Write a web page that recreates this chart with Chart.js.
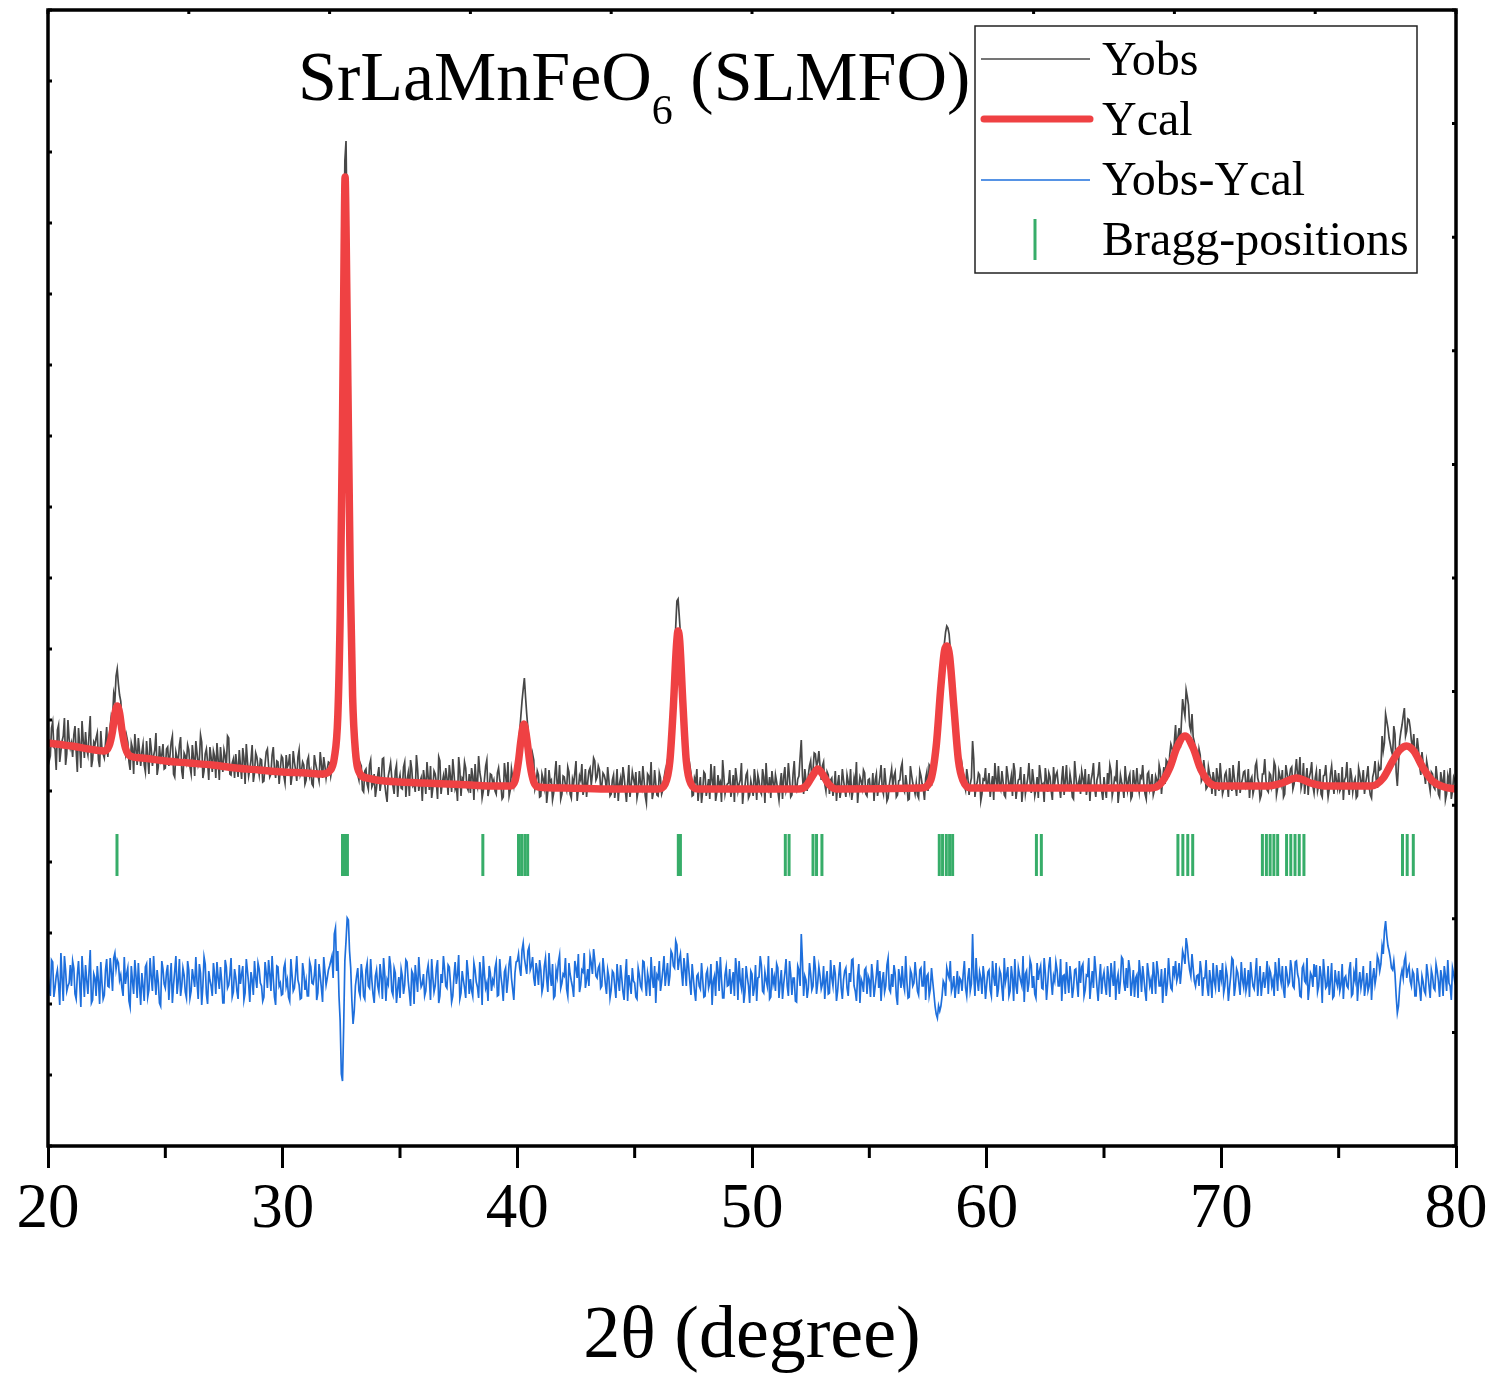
<!DOCTYPE html>
<html>
<head>
<meta charset="utf-8">
<script src="https://cdn.jsdelivr.net/npm/chart.js@4.4.1/dist/chart.umd.min.js"></script>
<style>
html, body { margin: 0; padding: 0; background: #fff; }
canvas { display: block; }
</style>
</head>
<body>
<canvas id="xrdChart" width="1506" height="1383"></canvas>
<script>
// observed / difference patterns: values at 20.0, 20.1 ... 80.0
// and the half steps 20.05, 20.15 ... 79.95 kept in the *Mid arrays
const gridStart = 20;
const gridStep = 0.1;

const obsY = [
  411, 390, 424, 397, 416, 384, 405, 428, 392, 407, // 20
  403, 411, 395, 418, 378, 406, 414, 391, 430, 386, // 21
  401, 413, 379, 397, 388, 419, 404, 431, 452, 470, // 22
  462, 445, 418, 392, 404, 376, 398, 412, 381, 395, // 23
  394, 381, 405, 372, 397, 390, 413, 379, 386, 402, // 24
  378, 399, 391, 410, 369, 388, 401, 375, 393, 384, // 25
  396, 372, 389, 405, 381, 411, 368, 392, 384, 399, // 26
  374, 390, 403, 366, 385, 396, 379, 408, 371, 387, // 27
  392, 369, 381, 398, 362, 385, 377, 401, 373, 389, // 28
  371, 386, 365, 394, 380, 372, 399, 368, 384, 377, // 29
  388, 363, 379, 392, 370, 384, 365, 396, 375, 381, // 30
  366, 389, 375, 360, 383, 371, 394, 368, 380, 377, // 31
  383, 377, 398, 415, 462, 540, 870, 1005, 780, 545, // 32
  445, 398, 371, 383, 356, 375, 362, 381, 359, 372, // 33
  358, 379, 364, 388, 352, 370, 383, 360, 375, 349, // 34
  371, 357, 384, 366, 350, 377, 362, 391, 355, 368, // 35
  376, 352, 369, 380, 358, 372, 347, 385, 363, 359, // 36
  368, 381, 354, 373, 361, 389, 350, 366, 378, 356, // 37
  353, 370, 382, 359, 374, 348, 367, 386, 357, 371, // 38
  366, 352, 378, 361, 349, 371, 384, 356, 369, 375, // 39
  388, 414, 445, 468, 432, 402, 378, 386, 362, 371, // 40
  350, 367, 378, 355, 364, 346, 372, 359, 381, 352, // 41
  369, 356, 374, 348, 362, 385, 357, 366, 351, 377, // 42
  364, 378, 372, 385, 369, 376, 360, 371, 355, 366, // 43
  352, 371, 360, 345, 368, 379, 356, 363, 349, 374, // 44
  361, 348, 375, 358, 366, 343, 370, 384, 354, 362, // 45
  350, 368, 356, 375, 386, 398, 440, 492, 545, 530, // 46
  482, 436, 394, 366, 373, 351, 364, 345, 369, 355, // 47
  372, 358, 347, 366, 380, 353, 361, 344, 370, 359, // 48
  363, 349, 371, 378, 355, 366, 342, 360, 374, 351, // 49
  358, 377, 346, 365, 352, 369, 383, 357, 348, 364, // 50
  371, 355, 362, 347, 379, 360, 368, 351, 385, 356, // 51
  370, 406, 352, 366, 371, 385, 376, 392, 384, 379, // 52
  380, 362, 374, 352, 368, 359, 345, 371, 356, 366, // 53
  349, 364, 377, 355, 361, 343, 369, 358, 373, 350, // 54
  367, 356, 345, 372, 360, 381, 352, 364, 348, 369, // 55
  359, 374, 351, 366, 383, 354, 362, 347, 371, 358, // 56
  363, 348, 370, 357, 368, 355, 379, 372, 398, 392, // 57
  425, 462, 503, 520, 512, 478, 452, 420, 390, 368, // 58
  372, 356, 368, 362, 405, 349, 364, 371, 352, 366, // 59
  355, 373, 361, 346, 368, 380, 357, 364, 349, 371, // 60
  362, 350, 375, 358, 367, 344, 372, 360, 383, 353, // 61
  366, 357, 348, 371, 362, 378, 354, 369, 346, 363, // 62
  374, 359, 367, 351, 381, 356, 364, 347, 370, 361, // 63
  352, 368, 377, 360, 345, 372, 358, 366, 384, 355, // 64
  369, 348, 362, 375, 357, 366, 343, 371, 359, 380, // 65
  356, 372, 350, 364, 378, 354, 368, 361, 347, 374, // 66
  363, 351, 370, 358, 375, 367, 362, 384, 391, 398, // 67
  405, 392, 418, 424, 437, 456, 441, 415, 409, 395, // 68
  379, 391, 368, 375, 359, 372, 352, 366, 378, 355, // 69
  368, 357, 374, 349, 365, 381, 360, 371, 353, 367, // 70
  375, 362, 348, 369, 358, 384, 363, 351, 372, 366, // 71
  354, 371, 365, 380, 358, 369, 376, 352, 373, 368, // 72
  379, 362, 387, 370, 358, 383, 366, 351, 374, 360, // 73
  368, 355, 377, 349, 371, 363, 357, 380, 352, 366, // 74
  373, 358, 346, 369, 361, 378, 354, 367, 350, 372, // 75
  365, 352, 370, 359, 348, 374, 366, 381, 377, 395, // 76
  432, 418, 402, 391, 412, 360, 405, 421, 438, 415, // 77
  426, 405, 412, 389, 397, 371, 383, 362, 378, 355, // 78
  372, 357, 368, 349, 365, 376, 352, 363, 347, 369, // 79
  358                                               // 80
];

const obsMid = [
  385, 418, 399, 376, 421, 395, 410, 381, 426, 398, // 20
  389, 420, 374, 401, 425, 388, 397, 412, 379, 404, // 21
  408, 386, 415, 392, 403, 389, 420, 428, 445, 477, // 22
  451, 427, 399, 410, 384, 403, 372, 397, 408, 380, // 23
  402, 374, 389, 408, 380, 396, 371, 400, 391, 377, // 24
  397, 380, 404, 372, 394, 385, 409, 367, 390, 401, // 25
  379, 401, 370, 393, 386, 404, 375, 397, 366, 389, // 26
  395, 368, 387, 399, 374, 390, 410, 372, 383, 368, // 27
  381, 396, 367, 388, 402, 370, 386, 364, 393, 379, // 28
  387, 364, 382, 397, 369, 391, 377, 385, 362, 390, // 29
  370, 391, 382, 361, 395, 376, 389, 371, 384, 362, // 30
  385, 370, 362, 391, 377, 365, 382, 389, 368, 384, // 31
  370, 394, 406, 438, 505, 660, 985, 905, 640, 480, // 32
  425, 392, 366, 380, 354, 377, 357, 386, 362, 349, // 33
  371, 355, 387, 362, 344, 376, 368, 352, 381, 365, // 34
  358, 379, 349, 373, 386, 360, 354, 377, 364, 345, // 35
  367, 384, 356, 348, 375, 363, 389, 352, 370, 378, // 36
  351, 370, 387, 357, 345, 376, 368, 384, 359, 372, // 37
  378, 346, 364, 390, 367, 355, 380, 350, 372, 362, // 38
  355, 373, 366, 347, 383, 359, 350, 377, 361, 384, // 39
  401, 430, 457, 449, 418, 387, 392, 357, 375, 349, // 40
  372, 359, 343, 376, 366, 353, 385, 362, 347, 370, // 41
  361, 379, 352, 367, 373, 345, 370, 382, 359, 349, // 42
  375, 361, 388, 366, 380, 358, 373, 366, 379, 350, // 43
  366, 348, 377, 362, 354, 370, 344, 381, 360, 367, // 44
  374, 355, 363, 380, 350, 372, 359, 347, 376, 351, // 45
  373, 352, 368, 359, 392, 415, 463, 520, 547, 512, // 46
  461, 418, 371, 381, 350, 368, 377, 358, 343, 374, // 47
  350, 367, 382, 357, 345, 371, 364, 386, 352, 362, // 48
  376, 357, 344, 368, 362, 383, 357, 371, 348, 365, // 49
  350, 366, 371, 355, 377, 343, 362, 369, 375, 354, // 50
  364, 346, 373, 369, 355, 383, 349, 372, 360, 367, // 51
  389, 370, 377, 355, 380, 367, 393, 380, 395, 366, // 52
  384, 355, 371, 366, 350, 375, 362, 348, 377, 357, // 53
  371, 356, 346, 368, 384, 358, 365, 376, 352, 366, // 54
  356, 373, 366, 350, 369, 357, 378, 345, 361, 377, // 55
  370, 349, 365, 378, 357, 371, 346, 380, 363, 352, // 56
  351, 375, 362, 346, 374, 381, 360, 391, 385, 408, // 57
  447, 490, 514, 518, 497, 466, 437, 402, 372, 381, // 58
  361, 377, 351, 368, 387, 360, 373, 345, 367, 378, // 59
  364, 349, 370, 383, 356, 362, 375, 351, 380, 359, // 60
  370, 383, 347, 366, 379, 357, 352, 368, 364, 377, // 61
  350, 369, 381, 360, 344, 367, 373, 355, 379, 371, // 62
  362, 348, 380, 366, 357, 372, 349, 385, 358, 367, // 63
  375, 358, 351, 372, 366, 383, 349, 371, 362, 346, // 64
  357, 373, 381, 350, 368, 386, 355, 364, 348, 366, // 65
  368, 347, 376, 359, 363, 370, 381, 352, 372, 357, // 66
  372, 356, 366, 381, 352, 379, 386, 369, 402, 388, // 67
  421, 409, 398, 447, 430, 449, 420, 432, 404, 385, // 68
  397, 365, 386, 357, 379, 368, 374, 350, 369, 383, // 69
  352, 371, 363, 378, 355, 369, 350, 385, 362, 374, // 70
  359, 377, 366, 352, 380, 368, 347, 372, 387, 356, // 71
  373, 359, 384, 351, 375, 362, 349, 381, 366, 377, // 72
  357, 375, 370, 389, 364, 352, 378, 369, 384, 353, // 73
  375, 361, 352, 370, 381, 349, 372, 364, 376, 358, // 74
  355, 379, 366, 384, 351, 370, 363, 348, 378, 361, // 75
  376, 363, 380, 351, 369, 385, 358, 376, 410, 403, // 76
  425, 408, 395, 420, 374, 382, 414, 430, 410, 427, // 77
  418, 398, 391, 408, 380, 394, 372, 385, 363, 374, // 78
  359, 380, 352, 374, 361, 346, 370, 378, 355, 366  // 79
];

const diffY = [
  172, 150, 184, 158, 176, 141, 168, 190, 155, 163, // 20
  160, 178, 147, 185, 139, 170, 181, 152, 196, 146, // 21
  168, 180, 142, 163, 151, 187, 159, 174, 188, 177, // 22
  183, 171, 150, 162, 178, 139, 165, 186, 148, 160, // 23
  173, 145, 182, 156, 169, 190, 151, 164, 140, 177, // 24
  158, 181, 166, 143, 175, 152, 187, 160, 171, 148, // 25
  176, 155, 168, 189, 147, 173, 160, 182, 142, 166, // 26
  150, 171, 184, 157, 165, 143, 179, 161, 188, 154, // 27
  169, 147, 162, 180, 153, 175, 144, 166, 185, 158, // 28
  177, 160, 149, 173, 186, 155, 168, 141, 179, 163, // 29
  152, 183, 166, 145, 171, 158, 190, 161, 148, 174, // 30
  165, 150, 179, 162, 187, 153, 170, 144, 175, 168, // 31
  180, 190, 212, 175, 150, 72, 120, 205, 226, 178,  // 32
  122, 160, 178, 150, 171, 147, 183, 158, 166, 143, // 33
  176, 154, 169, 188, 145, 162, 180, 151, 173, 157, // 34
  148, 170, 161, 184, 153, 175, 142, 167, 189, 159, // 35
  172, 155, 181, 146, 168, 160, 186, 150, 163, 177, // 36
  158, 179, 144, 170, 162, 191, 153, 166, 148, 174, // 37
  167, 150, 176, 159, 184, 141, 172, 163, 180, 155, // 38
  162, 184, 151, 170, 145, 178, 166, 190, 157, 173, // 39
  185, 178, 196, 188, 172, 199, 180, 168, 183, 161, // 40
  176, 160, 188, 154, 171, 182, 150, 169, 191, 163, // 41
  170, 157, 183, 165, 149, 178, 192, 161, 174, 158, // 42
  177, 190, 172, 186, 168, 181, 160, 175, 152, 169, // 43
  156, 173, 148, 166, 181, 154, 170, 145, 162, 178, // 44
  163, 147, 171, 157, 184, 150, 166, 189, 158, 143, // 45
  168, 155, 176, 160, 183, 170, 192, 178, 201, 186, // 46
  174, 188, 160, 179, 151, 168, 145, 172, 157, 166, // 47
  150, 176, 163, 141, 170, 185, 155, 167, 148, 179, // 48
  161, 152, 174, 188, 146, 165, 178, 154, 169, 143, // 49
  172, 158, 145, 169, 181, 153, 166, 190, 149, 162, // 50
  155, 178, 164, 147, 173, 160, 185, 151, 168, 144, // 51
  176, 212, 150, 166, 158, 172, 160, 178, 163, 170, // 52
  162, 147, 175, 153, 168, 181, 145, 171, 158, 166, // 53
  178, 150, 164, 187, 155, 170, 143, 163, 176, 152, // 54
  166, 182, 149, 171, 158, 145, 174, 160, 188, 154, // 55
  159, 173, 141, 168, 180, 156, 165, 149, 172, 163, // 56
  170, 151, 178, 160, 146, 172, 157, 165, 140, 128, // 57
  135, 150, 162, 178, 168, 155, 170, 160, 152, 166, // 58
  172, 158, 168, 155, 212, 150, 166, 174, 152, 169, // 59
  161, 176, 150, 169, 183, 157, 172, 145, 164, 179, // 60
  155, 168, 187, 152, 171, 160, 144, 175, 163, 181, // 61
  170, 148, 166, 180, 157, 173, 162, 189, 151, 165, // 62
  176, 160, 145, 171, 184, 153, 168, 158, 177, 149, // 63
  163, 182, 156, 170, 147, 175, 190, 159, 166, 152, // 64
  174, 151, 168, 183, 160, 146, 172, 165, 187, 155, // 65
  158, 177, 163, 149, 171, 186, 154, 168, 145, 173, // 66
  166, 184, 152, 175, 160, 143, 178, 162, 170, 156, // 67
  172, 165, 183, 176, 190, 208, 186, 170, 178, 160, // 68
  171, 185, 150, 168, 159, 176, 148, 165, 181, 154, // 69
  167, 153, 178, 145, 170, 186, 160, 173, 151, 166, // 70
  178, 162, 149, 170, 157, 188, 165, 150, 174, 168, // 71
  152, 173, 166, 184, 155, 170, 180, 148, 172, 164, // 72
  177, 158, 185, 167, 149, 181, 163, 146, 173, 159, // 73
  169, 154, 180, 143, 172, 160, 151, 183, 150, 165, // 74
  175, 161, 147, 170, 158, 184, 152, 166, 145, 174, // 75
  166, 150, 173, 160, 146, 178, 170, 186, 182, 192, // 76
  225, 200, 188, 176, 172, 133, 158, 176, 185, 168, // 77
  180, 160, 172, 150, 166, 145, 164, 152, 172, 148, // 78
  170, 156, 175, 149, 168, 180, 155, 163, 146, 172, // 79
  160                                               // 80
];

const diffMid = [
  158, 186, 149, 170, 162, 193, 145, 176, 160, 181, // 20
  185, 152, 171, 163, 190, 149, 166, 175, 143, 172, // 21
  150, 165, 184, 147, 176, 160, 188, 155, 193, 186, // 22
  166, 158, 189, 172, 145, 180, 152, 170, 183, 141, // 23
  160, 179, 149, 188, 155, 168, 176, 143, 185, 162, // 24
  174, 146, 183, 161, 190, 165, 150, 178, 154, 185, // 25
  148, 177, 159, 164, 182, 141, 189, 152, 175, 160, // 26
  183, 152, 168, 179, 143, 186, 158, 171, 149, 177, // 27
  155, 181, 172, 146, 187, 162, 174, 151, 168, 183, // 28
  163, 145, 184, 158, 172, 190, 149, 180, 160, 151, // 29
  178, 160, 149, 187, 155, 172, 166, 147, 183, 156, // 30
  150, 184, 163, 171, 146, 182, 158, 189, 161, 176, // 31
  185, 168, 218, 195, 125, 65, 185, 228, 195, 145,  // 32
  135, 170, 155, 182, 150, 176, 160, 187, 152, 170, // 33
  160, 182, 147, 172, 166, 190, 155, 178, 143, 169, // 34
  177, 152, 186, 165, 140, 172, 181, 154, 170, 162, // 35
  150, 174, 166, 187, 154, 178, 143, 172, 190, 160, // 36
  181, 163, 150, 184, 171, 147, 175, 158, 186, 152, // 37
  156, 183, 164, 148, 171, 190, 158, 145, 173, 166, // 38
  178, 150, 187, 160, 174, 153, 182, 168, 146, 184, // 39
  192, 170, 203, 180, 195, 176, 189, 160, 175, 186, // 40
  154, 180, 167, 193, 160, 148, 176, 184, 158, 172, // 41
  188, 150, 172, 159, 185, 168, 154, 176, 193, 166, // 42
  160, 183, 197, 170, 178, 158, 188, 162, 176, 148, // 43
  175, 160, 182, 155, 168, 146, 187, 171, 152, 165, // 44
  149, 178, 160, 185, 165, 173, 150, 168, 180, 171, // 45
  185, 164, 190, 172, 160, 195, 180, 205, 176, 192, // 46
  160, 176, 193, 164, 182, 155, 170, 160, 183, 149, // 47
  172, 158, 182, 165, 150, 176, 189, 148, 171, 160, // 48
  177, 165, 150, 176, 185, 158, 143, 180, 160, 175, // 49
  150, 181, 168, 190, 155, 174, 160, 147, 178, 169, // 50
  182, 148, 176, 162, 187, 150, 172, 168, 145, 180, // 51
  160, 185, 170, 148, 183, 156, 190, 152, 179, 157, // 52
  180, 166, 152, 186, 160, 172, 155, 184, 147, 175, // 53
  158, 173, 186, 160, 145, 182, 167, 154, 178, 170, // 54
  149, 170, 160, 186, 175, 165, 154, 181, 157, 172, // 55
  181, 150, 177, 158, 162, 190, 148, 176, 160, 184, // 56
  155, 176, 160, 185, 170, 150, 178, 153, 132, 140, // 57
  140, 165, 150, 172, 185, 160, 148, 175, 168, 155, // 58
  185, 150, 178, 162, 170, 188, 155, 168, 180, 147, // 59
  174, 156, 185, 160, 149, 176, 158, 188, 171, 150, // 60
  180, 145, 160, 178, 165, 190, 172, 154, 186, 158, // 61
  152, 183, 175, 158, 188, 146, 180, 165, 170, 184, // 62
  160, 187, 170, 152, 166, 180, 148, 176, 162, 185, // 63
  179, 150, 171, 188, 162, 158, 176, 145, 182, 168, // 64
  160, 180, 149, 170, 185, 166, 152, 189, 163, 178, // 65
  186, 150, 176, 168, 148, 173, 180, 155, 183, 160, // 66
  152, 170, 185, 160, 177, 163, 150, 188, 158, 180, // 67
  185, 170, 162, 195, 182, 200, 176, 192, 165, 170, // 68
  160, 175, 168, 186, 150, 165, 183, 158, 170, 176, // 69
  183, 160, 170, 158, 188, 150, 177, 162, 184, 159, // 70
  155, 176, 184, 160, 172, 150, 180, 163, 158, 185, // 71
  177, 160, 150, 172, 188, 163, 156, 180, 161, 186, // 72
  160, 184, 172, 150, 178, 165, 188, 159, 170, 182, // 73
  181, 160, 170, 187, 158, 180, 165, 148, 176, 160, // 74
  155, 182, 168, 160, 176, 150, 173, 188, 163, 158, // 75
  180, 160, 155, 185, 168, 162, 190, 175, 200, 215, // 76
  210, 195, 178, 185, 150, 140, 170, 168, 190, 176, // 77
  165, 175, 150, 178, 158, 170, 155, 182, 160, 176, // 78
  158, 182, 165, 176, 150, 170, 186, 160, 178, 164  // 79
];

// calculated profile
const calX = [20.0, 21.0, 22.0, 22.4, 22.6, 22.75, 22.85, 22.95, 23.05, 23.15, 23.3, 23.5,
  24.0, 25.0, 26.0, 27.0, 28.0, 29.0, 30.0, 31.0, 31.7, 32.0, 32.2, 32.35, 32.45, 32.55,
  32.62, 32.66, 32.70, 32.78, 32.88, 32.98, 33.1, 33.3, 33.6, 34.0, 35.0, 36.0, 37.0, 38.0,
  39.0, 39.7, 39.9, 40.05, 40.15, 40.28, 40.4, 40.55, 40.7, 40.9, 42.0, 44.0, 46.0, 46.3,
  46.5, 46.65, 46.78, 46.85, 46.92, 47.05, 47.2, 47.4, 47.7, 52.0, 52.3, 52.6, 52.8, 53.0,
  53.3, 53.6, 57.2, 57.6, 57.85, 58.05, 58.2, 58.3, 58.42, 58.6, 58.8, 59.0, 59.3, 67.0,
  67.4, 67.8, 68.1, 68.45, 68.8, 69.1, 69.5, 69.9, 72.0, 72.6, 73.2, 73.8, 74.4, 76.4,
  76.9, 77.3, 77.6, 77.9, 78.2, 78.6, 79.0, 79.5, 80.0];
const calY = [403, 400, 396, 395, 400, 415, 432, 440, 433, 416, 398, 390,
  388, 385, 383, 381, 378, 376, 374, 373, 372, 375, 388, 430, 530, 720,
  900, 969, 920, 760, 570, 450, 395, 372, 368, 366, 364, 363, 362, 361,
  360, 360, 365, 385, 405, 422, 408, 380, 364, 359, 358, 357, 357, 362,
  385, 440, 500, 515, 505, 445, 385, 362, 357, 357, 360, 371, 377, 372,
  361, 357, 358, 365, 400, 460, 495, 500, 490, 440, 385, 365, 358, 358,
  362, 378, 398, 410, 398, 378, 363, 360, 360, 363, 368, 363, 360, 360,
  368, 385, 396, 400, 395, 378, 365, 359, 357];

// reflection positions (2theta)
const braggPos = [22.94, 32.55, 32.66, 32.76, 38.53, 40.05, 40.18, 40.32, 40.44, 46.86, 46.95,
  51.42, 51.58, 52.6, 52.75, 52.98, 57.98, 58.12, 58.28, 58.42, 58.55, 62.12, 62.33,
  68.15, 68.36, 68.57, 68.78, 71.75, 71.92, 72.08, 72.24, 72.4, 72.78, 72.96, 73.14,
  73.32, 73.52, 77.72, 77.92, 78.18];
const braggLevel = 291;

const xMin = 20, xMax = 80, yMin = 0, yMax = 1136;
const minorTicks = [25, 35, 45, 55, 65, 75];
const topTicks = [20, 26, 32, 38, 44, 50, 56, 62, 68, 74, 80];
const leftTickStep = 71;
const rightTickStep = 113.6;

const serif = '"Liberation Serif", "Times New Roman", serif';
const cObs = '#474747', cCal = '#ef4143', cDiff = '#1e6fdc', cBragg = '#37ad69';

// whole steps and half steps merged in x order
function gridPoints(main, mid) {
  const pts = [];
  main.forEach((v, i) => {
    pts.push({ x: gridStart + i * gridStep, y: v });
    if (i < mid.length) pts.push({ x: gridStart + (i + 0.5) * gridStep, y: mid[i] });
  });
  return pts;
}

// frame with inward ticks, and the minor ticks below the x axis
const framePlugin = {
  id: 'frame',
  afterDatasetsDraw(chart) {
    const { ctx, chartArea: a, scales: { x, y } } = chart;
    ctx.save();
    ctx.strokeStyle = '#000';
    ctx.lineWidth = 3.5;
    ctx.strokeRect(a.left, a.top, a.right - a.left, a.bottom - a.top);
    ctx.lineWidth = 3;
    ctx.beginPath();
    minorTicks.forEach(v => {
      const px = x.getPixelForValue(v);
      ctx.moveTo(px, a.bottom);
      ctx.lineTo(px, a.bottom + 12);
    });
    topTicks.forEach(v => {
      const px = x.getPixelForValue(v);
      ctx.moveTo(px, a.top);
      ctx.lineTo(px, a.top + 4);
    });
    for (let v = yMin; v <= yMax + 0.1; v += leftTickStep) {
      const py = y.getPixelForValue(v);
      ctx.moveTo(a.left, py);
      ctx.lineTo(a.left + 4, py);
    }
    for (let v = yMin; v <= yMax + 0.1; v += rightTickStep) {
      const py = y.getPixelForValue(v);
      ctx.moveTo(a.right, py);
      ctx.lineTo(a.right - 4, py);
    }
    ctx.stroke();
    ctx.restore();
  }
};

// compound name and legend box
const labelPlugin = {
  id: 'labels',
  afterDraw(chart) {
    const ctx = chart.ctx;
    ctx.save();
    ctx.fillStyle = '#000';
    ctx.textBaseline = 'alphabetic';
    ctx.textAlign = 'left';
    let tx = 298;
    ctx.font = '70px ' + serif;
    ctx.fillText('SrLaMnFeO', tx, 100);
    tx += ctx.measureText('SrLaMnFeO').width;
    ctx.font = '42px ' + serif;
    ctx.fillText('6', tx, 124);
    tx += ctx.measureText('6').width;
    ctx.font = '70px ' + serif;
    ctx.fillText(' (SLMFO)', tx, 100);

    // legend
    ctx.fillStyle = '#fff';
    ctx.fillRect(975, 26, 442, 247);
    ctx.strokeStyle = '#222';
    ctx.lineWidth = 1.5;
    ctx.strokeRect(975, 26, 442, 247);

    ctx.lineCap = 'butt';
    ctx.strokeStyle = cObs;
    ctx.lineWidth = 1.3;
    ctx.beginPath(); ctx.moveTo(981, 59); ctx.lineTo(1090, 59); ctx.stroke();
    ctx.lineCap = 'round';
    ctx.strokeStyle = cCal;
    ctx.lineWidth = 7;
    ctx.beginPath(); ctx.moveTo(984, 119); ctx.lineTo(1090, 119); ctx.stroke();
    ctx.lineCap = 'butt';
    ctx.strokeStyle = cDiff;
    ctx.lineWidth = 1.3;
    ctx.beginPath(); ctx.moveTo(981, 180); ctx.lineTo(1090, 180); ctx.stroke();
    ctx.strokeStyle = cBragg;
    ctx.lineWidth = 3;
    ctx.beginPath(); ctx.moveTo(1035, 219); ctx.lineTo(1035, 260); ctx.stroke();

    ctx.fillStyle = '#000';
    ctx.font = '48px ' + serif;
    ctx.fillText('Yobs', 1102, 75);
    ctx.fillText('Ycal', 1102, 135);
    ctx.fillText('Yobs-Ycal', 1102, 195);
    ctx.fillText('Bragg-positions', 1102, 255);
    ctx.restore();
  }
};

const ctx = document.getElementById('xrdChart').getContext('2d');

const dataCal = {
  label: 'Ycal',
  data: calX.map((x, i) => ({ x: x, y: calY[i] })),
  showLine: true,
  borderColor: cCal,
  borderWidth: 7.5,
  borderCapStyle: 'round',
  borderJoinStyle: 'round',
  cubicInterpolationMode: 'monotone',
  pointRadius: 0,
  order: 1
};

const dataObs = {
  label: 'Yobs',
  data: gridPoints(obsY, obsMid),
  showLine: true,
  borderColor: cObs,
  borderWidth: 1.7,
  pointRadius: 0,
  order: 2
};

const dataDiff = {
  label: 'Yobs-Ycal',
  data: gridPoints(diffY, diffMid),
  showLine: true,
  borderColor: cDiff,
  borderWidth: 1.7,
  pointRadius: 0,
  order: 3
};

const dataBragg = {
  label: 'Bragg-positions',
  data: braggPos.map(x => ({ x: x, y: braggLevel })),
  showLine: false,
  pointStyle: 'line',
  pointRadius: 21,
  pointRotation: 90,
  pointBorderWidth: 3,
  pointBorderColor: cBragg,
  pointBackgroundColor: cBragg,
  order: 4
};

new Chart(ctx, {
  type: 'scatter',
  data: { datasets: [dataCal, dataObs, dataDiff, dataBragg] },
  plugins: [framePlugin, labelPlugin],
  options: {
    responsive: false,
    animation: false,
    layout: { autoPadding: false, padding: { left: 48, right: 50, top: 10, bottom: 0 } },
    plugins: {
      legend: { display: false },
      tooltip: { enabled: false }
    },
    scales: {
      x: {
        type: 'linear',
        min: xMin,
        max: xMax,
        position: 'bottom',
        ticks: {
          stepSize: 10,
          autoSkip: false,
          maxRotation: 0,
          padding: 11,
          color: '#000',
          font: { family: serif, size: 63, lineHeight: 1 }
        },
        grid: {
          display: true,
          drawOnChartArea: false,
          drawTicks: true,
          tickLength: 22,
          tickWidth: 3,
          tickColor: '#000'
        },
        border: { display: false },
        title: {
          display: true,
          text: '2θ (degree)',
          color: '#000',
          font: { family: serif, size: 74, lineHeight: 1 },
          padding: { top: 48, bottom: 8 }
        }
      },
      y: {
        type: 'linear',
        min: yMin,
        max: yMax,
        display: false
      }
    }
  }
});
</script>
</body>
</html>
